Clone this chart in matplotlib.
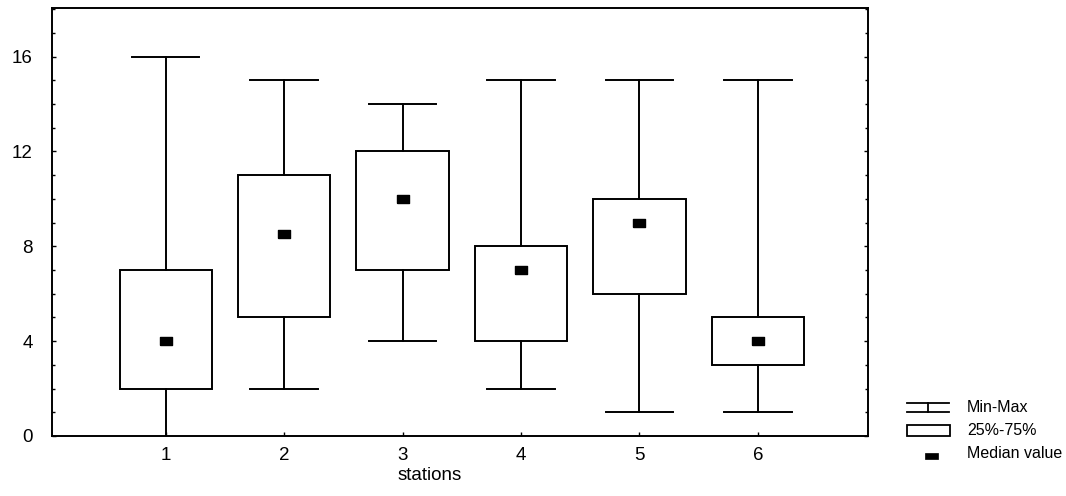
import matplotlib
matplotlib.use("Agg")
import matplotlib.pyplot as plt
from matplotlib.lines import Line2D
from matplotlib.patches import Rectangle
from matplotlib.ticker import MultipleLocator

stations = [1, 2, 3, 4, 5, 6]
mins = [0, 2, 4, 2, 1, 1]
q1 = [2, 5, 7, 4, 6, 3]
medians = [4, 8.5, 10, 7, 9, 4]
q3 = [7, 11, 12, 8, 10, 5]
maxs = [16, 15, 14, 15, 15, 15]
legend_labels = ["Min-Max", "25%-75%", "Median value"]

plt.rcParams['font.family'] = ['Liberation Sans', 'DejaVu Sans']

W, H = 1066, 496
fig = plt.figure(figsize=(W / 100, H / 100), dpi=100)
ax = fig.add_axes([52 / W, 1 - 436 / H, (868 - 52) / W, (436 - 8) / H])

box_hw = 0.39
cap_hw = 0.285
lw = 1.4
for s, mn, a, md, b, mx in zip(stations, mins, q1, medians, q3, maxs):
    ax.add_patch(Rectangle((s - box_hw, a), 2 * box_hw, b - a, fill=False,
                           edgecolor='black', linewidth=lw, zorder=3))
    ax.plot([s, s], [b, mx], color='black', lw=lw, zorder=2)
    ax.plot([s, s], [mn, a], color='black', lw=lw, zorder=2)
    ax.plot([s - cap_hw, s + cap_hw], [mx, mx], color='black', lw=lw, zorder=2)
    if mn > 0:
        ax.plot([s - cap_hw, s + cap_hw], [mn, mn], color='black', lw=lw, zorder=2)

rect_marker = [(-1, -0.6), (1, -0.6), (1, 0.6), (-1, 0.6), (-1, -0.6)]
ax.plot(stations, medians, linestyle='none', marker=rect_marker, markersize=9,
        color='black', zorder=4)

ax.set_xlim(0.04, 6.93)
ax.set_ylim(0, 18.05)
ax.set_xticks(stations)
ax.set_yticks([0, 4, 8, 12, 16])
ax.yaxis.set_minor_locator(MultipleLocator(1))
ax.tick_params(axis='both', which='both', direction='in', right=True,
               labelsize=13.5, width=1)
ax.tick_params(axis='y', which='major', length=3, pad=14)
ax.tick_params(axis='y', which='minor', length=2)
ax.tick_params(axis='x', which='major', length=3, pad=8)
for sp in ax.spines.values():
    sp.set_linewidth(1.4)
ax.set_xlabel("stations", fontsize=13.5)
ax.xaxis.set_label_coords((430 - 52) / 816, -(475 - 436) / 428, transform=ax.transAxes)
ax.xaxis.label.set_va('center')

# legend (drawn manually in figure pixel coordinates)
def fx(x):
    return x / W

def fy(y):
    return 1 - y / H

# Min-Max symbol
for yy in (403, 412):
    fig.add_artist(Line2D([fx(907), fx(949)], [fy(yy), fy(yy)], color='black', lw=1.3))
fig.add_artist(Line2D([fx(928), fx(928)], [fy(403), fy(412)], color='black', lw=1.3))
# box symbol
fig.add_artist(Rectangle((fx(907), fy(436)), fx(43), 11 / H, fill=False,
                         edgecolor='black', lw=1.3, transform=fig.transFigure))
# median symbol
fig.add_artist(Rectangle((fx(925), fy(459)), fx(13), 6 / H, fill=True,
                         facecolor='black', edgecolor='black', lw=0.5,
                         transform=fig.transFigure))
for lab, yy in zip(legend_labels, (407.5, 430.5, 454)):
    fig.text(fx(967), fy(yy), lab, fontsize=11.5, va='center', ha='left')

fig.savefig("out.png", dpi=100)
